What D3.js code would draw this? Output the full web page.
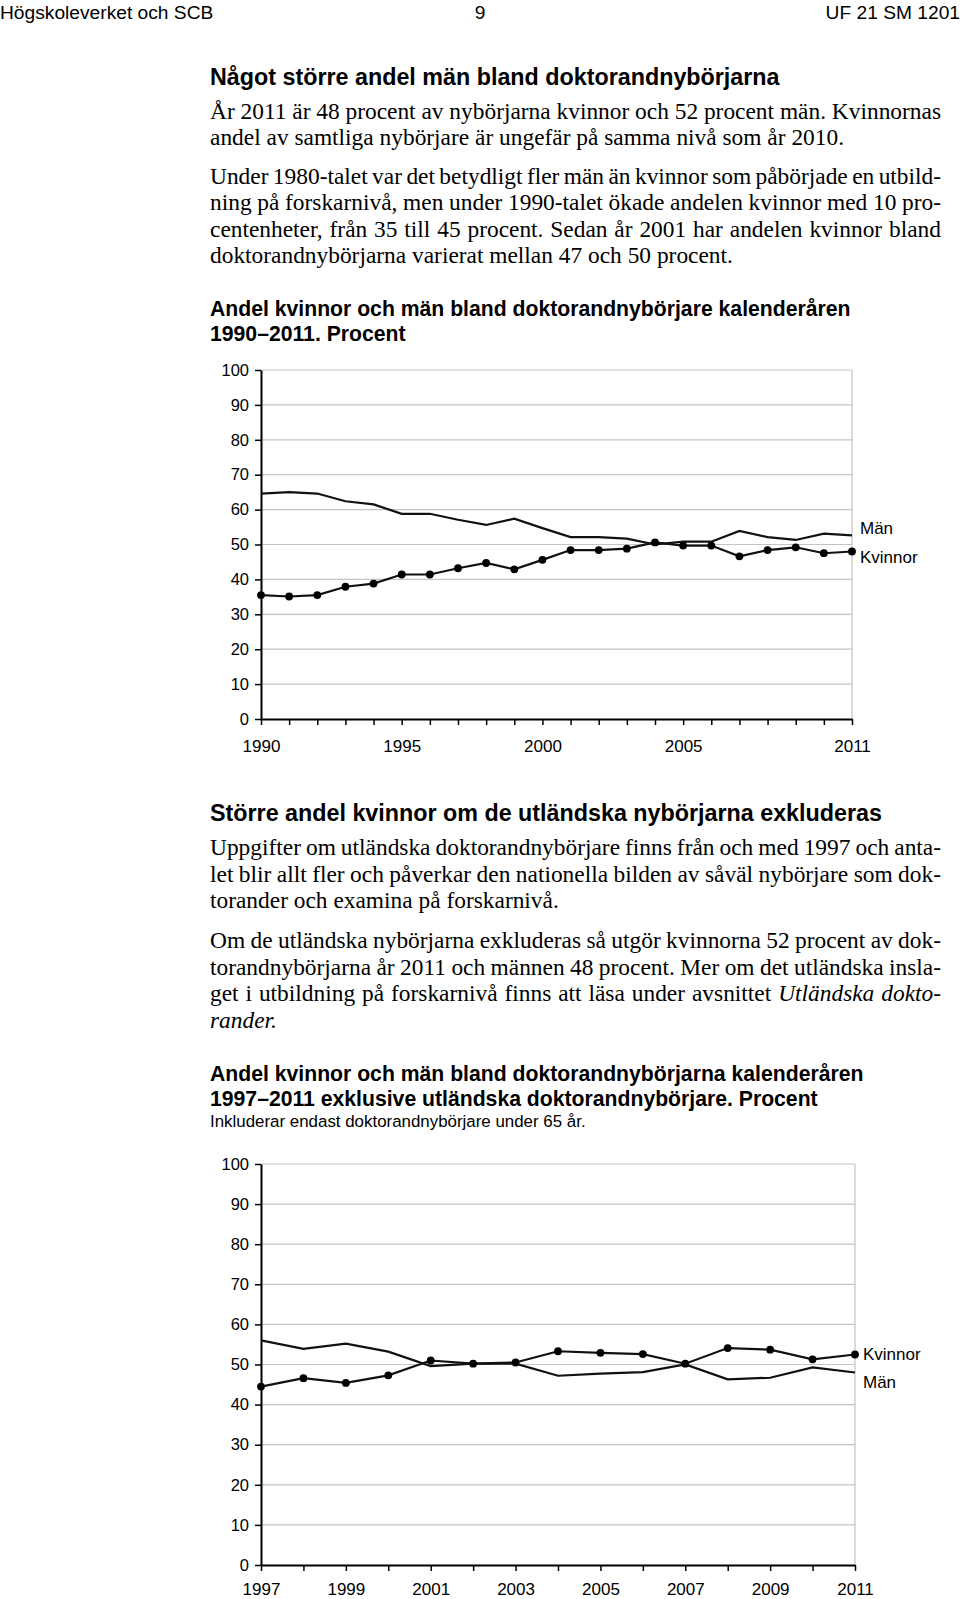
<!DOCTYPE html>
<html><head><meta charset="utf-8">
<script src="https://cdn.jsdelivr.net/npm/d3@7/dist/d3.min.js"></script>
<style>
body{margin:0;background:#fff}
svg{display:block}
.sans{font-family:"Liberation Sans",Arial,sans-serif;fill:#000}
.serif{font-family:"Liberation Serif","Times New Roman",serif;fill:#000}
</style>
</head><body>
<svg id="page" width="960" height="1599"></svg>
<script>
// ---------- DATA ----------
const years1 = [1990,1991,1992,1993,1994,1995,1996,1997,1998,1999,2000,2001,2002,2003,2004,2005,2006,2007,2008,2009,2010,2011];
const men1   = [64.6,65.0,64.6,62.4,61.5,58.8,58.8,57.1,55.6,57.4,54.7,52.1,52.1,51.7,50.0,50.8,50.8,53.9,52.1,51.3,53.1,52.6];
const women1 = [35.5,35.1,35.5,37.9,38.8,41.4,41.4,43.2,44.7,42.9,45.6,48.4,48.4,48.8,50.6,49.7,49.7,46.6,48.4,49.2,47.5,48.0];
const xLabels1 = [1990,1995,2000,2005,2011];

const years2 = [1997,1998,1999,2000,2001,2002,2003,2004,2005,2006,2007,2008,2009,2010,2011];
const men2   = [56.0,53.9,55.2,53.2,49.6,50.2,50.2,47.2,47.7,48.1,50.0,46.3,46.7,49.3,48.0];
const women2 = [44.5,46.6,45.4,47.3,51.0,50.2,50.5,53.3,52.9,52.6,50.2,54.1,53.7,51.3,52.5];
const xLabels2 = [1997,1999,2001,2003,2005,2007,2009,2011];

const yTicks = [0,10,20,30,40,50,60,70,80,90,100];

// ---------- PAGE ----------
const svg = d3.select('#page');

// header
svg.append('text').attr('class','sans').attr('x',0).attr('y',19).style('font-size','19.2px').text('Högskoleverket och SCB');
svg.append('text').attr('class','sans').attr('x',480).attr('y',19).attr('text-anchor','middle').style('font-size','19.2px').text('9');
svg.append('text').attr('class','sans').attr('x',960).attr('y',19).attr('text-anchor','end').style('font-size','19.2px').text('UF 21 SM 1201');

const LEFT = 210, RIGHT = 941;

function heading(txt, y, size){
  svg.append('text').attr('class','sans').attr('x',LEFT).attr('y',y)
    .style('font-size',size+'px').style('font-weight','bold').text(txt);
}

function para(lines, y0, lh, size){
  const spaceW = size*0.25;
  lines.forEach((line,i)=>{
    const y = y0 + i*lh;
    const words = line.split(' ');
    const nodes = words.map(w=>{
      const it = w.startsWith('~');
      return svg.append('text').attr('class','serif').attr('y',y)
        .style('font-size',size+'px').style('font-style', it?'italic':null)
        .text(it? w.slice(1) : w);
    });
    const ws = nodes.map(n=>n.node().getComputedTextLength());
    const last = i===lines.length-1;
    const gap = (!last && words.length>1) ? (RIGHT-LEFT-d3.sum(ws))/(words.length-1) : spaceW;
    let cx = LEFT;
    nodes.forEach((n,j)=>{ n.attr('x',cx); cx += ws[j]+gap; });
  });
}

const BODY = 23.4;
heading('Något större andel män bland doktorandnybörjarna', 85, 23.3);
para(['År 2011 är 48 procent av nybörjarna kvinnor och 52 procent män. Kvinnornas',
      'andel av samtliga nybörjare är ungefär på samma nivå som år 2010.'], 119, 25.5, BODY);
para(['Under 1980-talet var det betydligt fler män än kvinnor som påbörjade en utbild-',
      'ning på forskarnivå, men under 1990-talet ökade andelen kvinnor med 10 pro-',
      'centenheter, från 35 till 45 procent. Sedan år 2001 har andelen kvinnor bland',
      'doktorandnybörjarna varierat mellan 47 och 50 procent.'], 184, 26.3, BODY);
heading('Andel kvinnor och män bland doktorandnybörjare kalenderåren', 316, 21.2);
heading('1990\u20132011. Procent', 341, 21.2);

heading('Större andel kvinnor om de utländska nybörjarna exkluderas', 821, 23.3);
para(['Uppgifter om utländska doktorandnybörjare finns från och med 1997 och anta-',
      'let blir allt fler och påverkar den nationella bilden av såväl nybörjare som dok-',
      'torander och examina på forskarnivå.'], 855, 26.7, BODY);
para(['Om de utländska nybörjarna exkluderas så utgör kvinnorna 52 procent av dok-',
      'torandnybörjarna år 2011 och männen 48 procent. Mer om det utländska insla-',
      'get i utbildning på forskarnivå finns att läsa under avsnittet ~Utländska ~dokto-',
      '~rander.'], 948, 26.5, BODY);
heading('Andel kvinnor och män bland doktorandnybörjarna kalenderåren', 1081, 21.2);
heading('1997\u20132011 exklusive utländska doktorandnybörjare. Procent', 1106, 21.2);
svg.append('text').attr('class','sans').attr('x',LEFT).attr('y',1127).style('font-size','16.9px')
  .text('Inkluderar endast doktorandnybörjare under 65 år.');

// ---------- CHARTS ----------
function chart(cfg){
  const {years, men, women, xLabels, x0, x1, yTop, yBot, labels, labelY, xLabelY} = cfg;
  const g = svg.append('g');
  const x = d3.scaleLinear().domain([years[0], years[years.length-1]]).range([x0,x1]);
  const y = d3.scaleLinear().domain([0,100]).range([yBot,yTop]);

  // grid
  g.append('g').selectAll('line').data(yTicks.filter(d=>d>0)).join('line')
    .attr('x1',x0).attr('x2',x1).attr('y1',d=>y(d)).attr('y2',d=>y(d))
    .attr('stroke','#c4c4c4').attr('stroke-width',1.2);
  g.append('line').attr('x1',x1).attr('x2',x1).attr('y1',yTop).attr('y2',yBot)
    .attr('stroke','#c4c4c4').attr('stroke-width',1.2);

  // y axis
  const ya = g.append('g').attr('transform',`translate(${x0},0)`)
    .call(d3.axisLeft(y).tickValues(yTicks).tickSize(6).tickPadding(6).tickSizeOuter(0));
  ya.select('.domain').attr('stroke','#000').attr('stroke-width',2);
  ya.selectAll('.tick line').attr('stroke','#000').attr('stroke-width',1.5);
  ya.selectAll('.tick text').style('font-size','16.5px').attr('fill','#000')
    .style('font-family','"Liberation Sans",Arial,sans-serif');

  // x axis
  const xa = g.append('g').attr('transform',`translate(0,${yBot})`)
    .call(d3.axisBottom(x).tickValues(years).tickSize(6).tickSizeOuter(0)
      .tickFormat(d=> xLabels.includes(d) ? String(d) : ''));
  xa.select('.domain').attr('stroke','#000').attr('stroke-width',2);
  xa.selectAll('.tick line').attr('stroke','#000').attr('stroke-width',1.5);
  xa.selectAll('.tick text').attr('y', xLabelY - yBot).attr('dy',0)
    .style('font-size','17px').attr('fill','#000')
    .style('font-family','"Liberation Sans",Arial,sans-serif');

  const line = d3.line().x((d,i)=>x(years[i])).y(d=>y(d));
  g.append('path').datum(men).attr('d',line).attr('fill','none').attr('stroke','#111').attr('stroke-width',2.2);
  g.append('path').datum(women).attr('d',line).attr('fill','none').attr('stroke','#111').attr('stroke-width',2.2);
  g.append('g').selectAll('circle').data(women).join('circle')
    .attr('cx',(d,i)=>x(years[i])).attr('cy',d=>y(d)).attr('r',3.9).attr('fill','#000');

  labels.forEach((t,i)=>{
    g.append('text').attr('class','sans').attr('x',x1+8).attr('y',labelY[i])
      .style('font-size','17px').text(t);
  });
}

chart({years:years1, men:men1, women:women1, xLabels:xLabels1,
  x0:261, x1:852, yTop:370, yBot:719,
  labels:['Män','Kvinnor'], labelY:[534,563], xLabelY:752});

chart({years:years2, men:men2, women:women2, xLabels:xLabels2,
  x0:261, x1:855, yTop:1164, yBot:1565,
  labels:['Kvinnor','Män'], labelY:[1360,1388], xLabelY:1595});
</script>
</body></html>
